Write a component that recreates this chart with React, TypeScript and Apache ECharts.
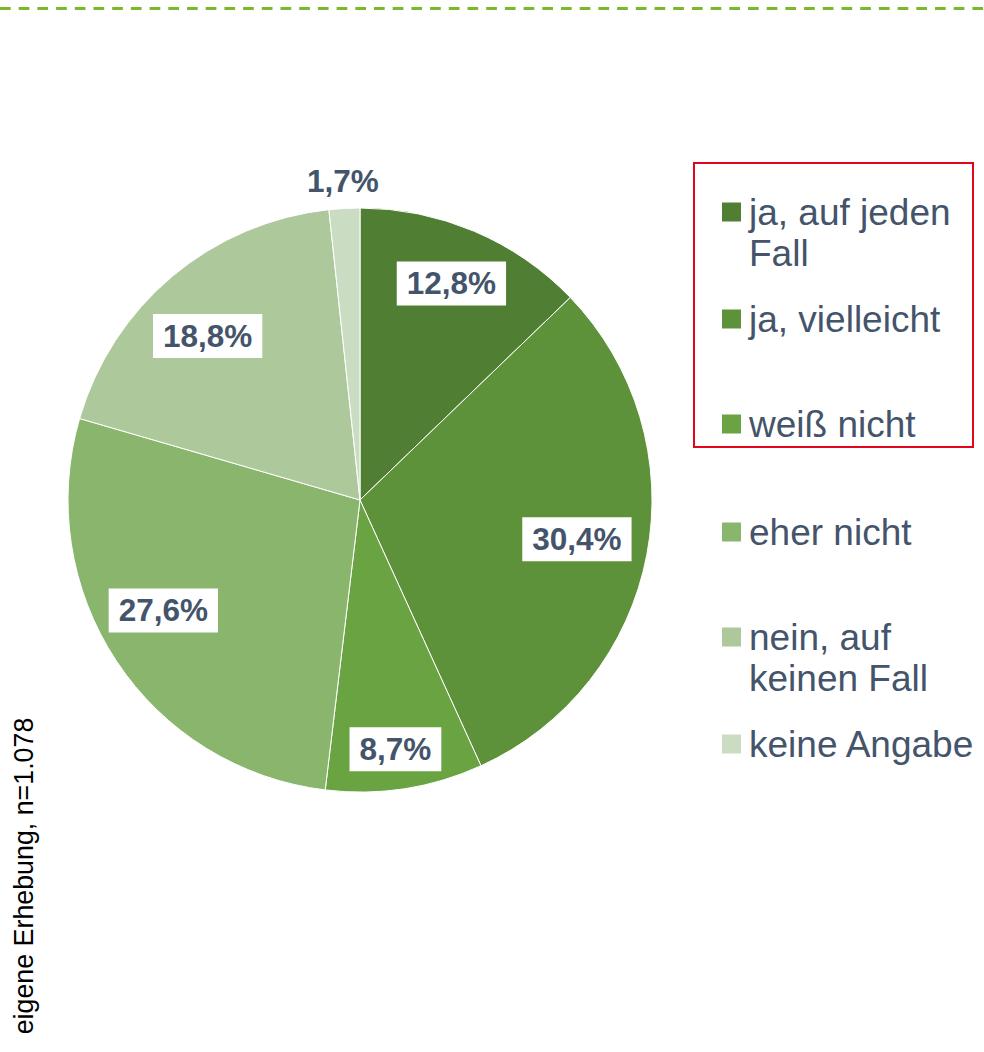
import React, { useEffect, useRef } from "react";
import * as echarts from "echarts";

const categories = [
  "ja, auf jeden Fall",
  "ja, vielleicht",
  "weiß nicht",
  "eher nicht",
  "nein, auf keinen Fall",
  "keine Angabe",
];
const legendLabels = [
  "ja, auf jeden\nFall",
  "ja, vielleicht",
  "weiß nicht",
  "eher nicht",
  "nein, auf\nkeinen Fall",
  "keine Angabe",
];
const shares = [12.8, 30.4, 8.7, 27.6, 18.8, 1.7];
const colors = ["#507E32", "#5E923A", "#6AA342", "#89B56D", "#ADC99C", "#CADDC3"];
const outsideLabel = [false, false, false, false, false, true];
const note = "eigene Erhebung, n=1.078";

// layout tweaks (styling only)
const labelOffsets = [[1, -4], [-10, -4], [0, 21], [-4, -17], [-4, 13], [0, 1]];
const legendIconCenters = [212, 319, 424, 532, 637, 744];

const FONT = 'Arial, "Liberation Sans", sans-serif';
const TEXT = "#44546A";
const LEG_LH = 41;

const fmt = (v: number) => v.toFixed(1).replace(".", ",") + "%";

export default function App() {
  const ref = useRef<HTMLDivElement>(null);
  useEffect(() => {
    if (!ref.current) return;
    const chart = echarts.init(ref.current, undefined, { renderer: "svg" });
    const center = [360, 500];
    const R = 292;
    const labelStyle = {
      fontFamily: FONT,
      fontSize: 31.5,
      fontWeight: "bold" as const,
      color: TEXT,
      lineHeight: 32,
    };
    const transparentData = (showFn: (i: number) => boolean, boxed: boolean) =>
      categories.map((name, i) => ({
        name,
        value: shares[i],
        itemStyle: { color: "rgba(0,0,0,0)", borderWidth: 0 },
        label: {
          show: showFn(i),
          position: "inside",
          offset: labelOffsets[i],
          formatter: () => fmt(shares[i]),
          ...labelStyle,
          ...(boxed ? { backgroundColor: "#fff", padding: [6, 10] } : {}),
        },
      }));

    const legends = categories.map((name, i) => {
      const two = legendLabels[i].includes("\n");
      // two-line items: a blank first line keeps the icon level with the first text line
      const text = two ? " \n" + legendLabels[i] : legendLabels[i];
      const top = two ? legendIconCenters[i] - 1.5 * LEG_LH : legendIconCenters[i] - LEG_LH / 2;
      return {
        orient: "vertical",
        left: 722,
        top,
        padding: 0,
        itemWidth: 19,
        itemHeight: 19,
        icon: "rect",
        selectedMode: false,
        itemStyle: { borderWidth: 0 },
        data: [{ name, itemStyle: { color: colors[i], borderWidth: 0 } }],
        formatter: () => text,
        textStyle: {
          fontFamily: FONT,
          fontSize: 37,
          lineHeight: LEG_LH,
          color: TEXT,
          padding: [0, 0, 0, 3],
        },
      };
    });

    chart.setOption({
      animation: false,
      legend: legends,
      series: [
        {
          type: "pie",
          center,
          radius: [0, R],
          startAngle: 90,
          clockwise: true,
          silent: true,
          label: { show: false },
          labelLine: { show: false },
          itemStyle: { borderColor: "#ffffff", borderWidth: 1 },
          data: categories.map((name, i) => ({
            name,
            value: shares[i],
            itemStyle: { color: colors[i] },
          })),
        },
        {
          type: "pie",
          center,
          radius: [164, R],
          startAngle: 90,
          clockwise: true,
          silent: true,
          labelLine: { show: false },
          data: transparentData((i) => !outsideLabel[i], true),
        },
        {
          type: "pie",
          center,
          radius: [R, R + 50],
          startAngle: 90,
          clockwise: true,
          silent: true,
          labelLine: { show: false },
          data: transparentData((i) => outsideLabel[i], false),
        },
      ],
      graphic: [
        {
          type: "line",
          shape: { x1: 0, y1: 8.5, x2: 984, y2: 8.5 },
          style: { stroke: "#7AB92B", lineWidth: 3, lineDash: [10.7, 8] },
        },
        {
          type: "rect",
          shape: { x: 694, y: 163, width: 279, height: 284 },
          style: { fill: "none", stroke: "#E3051B", lineWidth: 2 },
        },
        {
          type: "text",
          x: 24,
          y: 876,
          rotation: Math.PI / 2,
          style: {
            text: note,
            fontFamily: FONT,
            fontSize: 26.8,
            fill: "#000000",
            align: "center",
            verticalAlign: "middle",
          },
        },
      ],
    });
    return () => chart.dispose();
  }, []);
  return (
    <div
      ref={ref}
      style={{ position: "fixed", left: 0, top: 0, width: 984, height: 1052, background: "#fff" }}
    />
  );
}
